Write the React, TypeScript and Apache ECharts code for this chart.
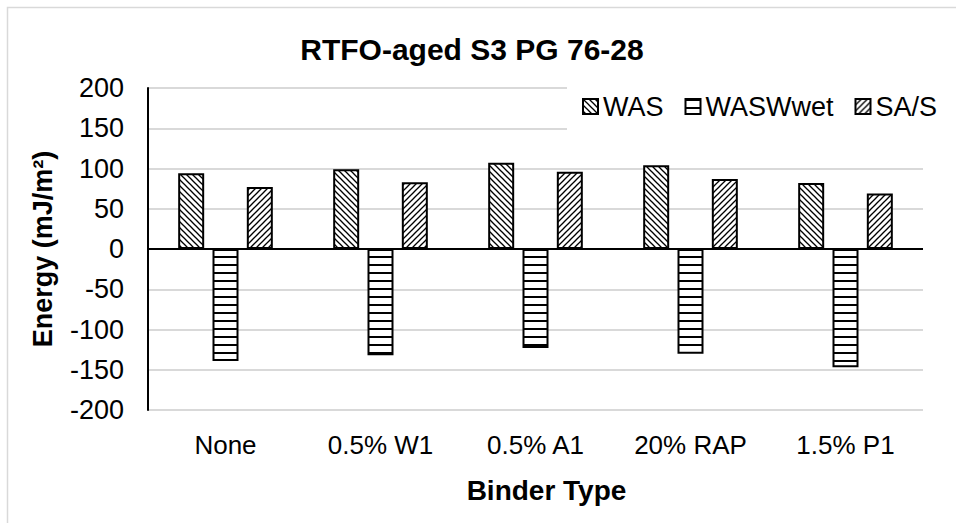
import React, { useEffect, useRef } from "react";
import * as echarts from "echarts";

const categories = ["None", "0.5% W1", "0.5% A1", "20% RAP", "1.5% P1"];
const seriesNames = ["WAS", "WASWwet", "SA/S"];
const wasValues = [94, 99, 107, 104, 82];
const waswWetValues = [-139, -132, -123, -130, -147];
const saSValues = [77, 83, 96, 87, 69];
const yMin = -200;
const yMax = 200;
const yInterval = 50;

const FONT = "Liberation Sans, Arial, sans-serif";

function makePattern(kind: string) {
  const size = kind === "horiz" ? 8 : 6;
  const c = document.createElement("canvas");
  c.width = size;
  c.height = size;
  const ctx = c.getContext("2d")!;
  ctx.fillStyle = "#fff";
  ctx.fillRect(0, 0, size, size);
  ctx.strokeStyle = "#000";
  ctx.fillStyle = "#000";
  if (kind === "horiz") {
    ctx.fillRect(0, 0, size, 2);
  } else {
    ctx.lineWidth = 1.3;
    for (const off of [-size, 0, size]) {
      ctx.beginPath();
      if (kind === "back") {
        ctx.moveTo(off - 1, -1);
        ctx.lineTo(off + size + 1, size + 1);
      } else {
        ctx.moveTo(off - 1, size + 1);
        ctx.lineTo(off + size + 1, -1);
      }
      ctx.stroke();
    }
  }
  return { image: c, repeat: "repeat", imageWidth: size, imageHeight: size };
}

export default function App() {
  const ref = useRef<HTMLDivElement>(null);
  useEffect(() => {
    if (!ref.current) return;
    const chart = echarts.init(ref.current, undefined, { renderer: "svg" });
    const patterns = [makePattern("back"), makePattern("horiz"), makePattern("fwd")];
    const values = [wasValues, waswWetValues, saSValues];
    const series: any[] = seriesNames.map((name, i) => ({
      name,
      type: "bar",
      data: values[i],
      barWidth: 26,
      barGap: "32%",
      itemStyle: { color: patterns[i], borderColor: "#000", borderWidth: 2 },
      emphasis: { disabled: true },
    }));
    series[0].markLine = {
      silent: true,
      symbol: ["none", "none"],
      label: { show: false },
      lineStyle: { color: "#000", width: 2, type: "solid" },
      data: [{ yAxis: 0 }],
      z: 10,
    };
    chart.setOption({
      animation: false,
      backgroundColor: "#fff",
      graphic: [
        {
          type: "rect",
          shape: { x: 7.5, y: 7.5, width: 1200, height: 1200 },
          style: { fill: "none", stroke: "#d9d9d9", lineWidth: 1.5 },
          silent: true,
        },
      ],
      title: {
        text: "RTFO-aged S3 PG 76-28",
        left: 467,
        top: 29,
        textAlign: "center",
        textStyle: { fontSize: 30, fontWeight: "bold", fontFamily: FONT, color: "#000" },
      },
      legend: {
        data: seriesNames,
        left: 567,
        top: 86,
        padding: [7, 10, 10, 15],
        itemWidth: 15,
        itemHeight: 15,
        itemGap: 21,
        icon: "rect",
        backgroundColor: "#fff",
        textStyle: { fontSize: 27, fontFamily: FONT, color: "#000" },
      },
      grid: { left: 148, right: 33, top: 88, bottom: 113, containLabel: false },
      xAxis: {
        type: "category",
        data: categories,
        axisLine: { show: false, onZero: false },
        axisTick: { show: false },
        axisLabel: { fontSize: 26, fontFamily: FONT, color: "#000", margin: 22, interval: 0 },
        name: "Binder Type",
        nameLocation: "middle",
        nameGap: 66,
        nameTextStyle: {
          fontSize: 28,
          fontWeight: "bold",
          fontFamily: FONT,
          color: "#000",
          padding: [0, 0, 0, 22],
        },
      },
      yAxis: {
        type: "value",
        min: yMin,
        max: yMax,
        interval: yInterval,
        axisLine: { show: true, lineStyle: { color: "#000", width: 2 } },
        axisTick: { show: false },
        axisLabel: { fontSize: 27, fontFamily: FONT, color: "#000", margin: 24 },
        splitLine: { lineStyle: { color: "#d9d9d9", width: 2 } },
        name: "Energy (mJ/m²)",
        nameLocation: "middle",
        nameGap: 92,
        nameTextStyle: { fontSize: 27, fontWeight: "bold", fontFamily: FONT, color: "#000" },
      },
      series,
    });
    return () => chart.dispose();
  }, []);
  return (
    <div style={{ position: "absolute", left: 0, top: 0, width: 956, height: 523, background: "#fff" }}>
      <div ref={ref} style={{ width: 956, height: 523 }} />
    </div>
  );
}
